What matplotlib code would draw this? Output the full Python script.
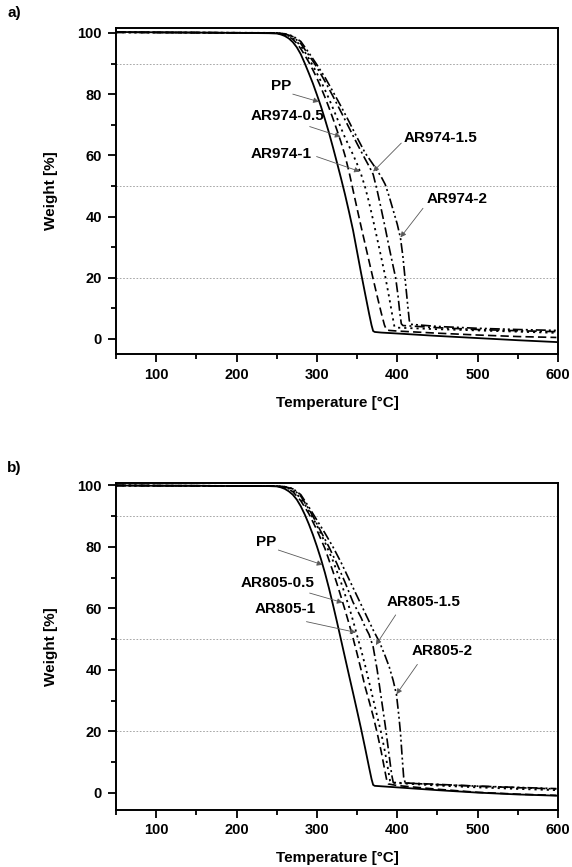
import numpy as np
import matplotlib
matplotlib.use("Agg")
import matplotlib.pyplot as plt
from matplotlib.ticker import MultipleLocator

plt.rcParams['font.family'] = ['Liberation Sans', 'DejaVu Sans']
plt.rcParams['font.weight'] = 'bold'

# ---- TGA curves, panel a (PP and AR974 composites) ----
t_pp_a = [50, 100, 150, 200, 240, 250, 255, 260, 265, 270, 275, 280, 285, 290, 295, 300, 305, 310, 315,
          320, 325, 330, 335, 340, 345, 350, 355, 360, 365, 368, 370, 372, 380, 400, 450, 500, 550, 598]
w_pp_a = [100.3, 100.2, 100.1, 100.0, 99.9, 99.8, 99.5, 99.0, 98.2, 97.0, 95.3, 93.0, 90.0, 86.8, 83.5,
          79.8, 76.0, 71.8, 67.4, 62.6, 57.6, 52.5, 47.2, 41.5, 35.5, 28.5, 21.5, 14.8, 8.2, 4.5, 2.6, 2.3,
          2.1, 1.8, 1.0, 0.3, -0.4, -1.0]

t_a05 = [50, 150, 250, 260, 265, 270, 275, 280, 285, 290, 295, 300, 305, 310, 315, 320, 325, 330, 335,
         340, 345, 350, 355, 360, 365, 370, 375, 380, 384, 386.5, 390, 400, 450, 500, 550, 598]
w_a05 = [100.2, 100.1, 99.9, 99.4, 98.8, 97.9, 96.6, 94.8, 92.7, 90.4, 87.9, 85.2, 82.2, 79.0, 75.6,
         72.0, 68.2, 64.3, 59.9, 54.6, 48.6, 42.6, 36.7, 31.0, 25.3, 19.6, 14.0, 8.6, 4.6, 3.0, 2.8, 2.6,
         1.9, 1.3, 0.8, 0.5]

t_a1 = [50, 150, 250, 260, 270, 280, 285, 290, 295, 300, 305, 310, 315, 320, 325, 330, 335, 340, 345,
        350, 355, 360, 365, 370, 375, 380, 385, 390, 394, 396.5, 400, 450, 500, 550, 598]
w_a1 = [100.2, 100.1, 100.0, 99.6, 98.4, 95.8, 93.8, 91.6, 89.3, 86.8, 84.2, 81.4, 78.5, 75.4, 72.2,
        68.9, 65.8, 63.0, 60.2, 57.2, 53.8, 49.6, 44.5, 38.8, 32.8, 26.7, 20.5, 13.5, 7.5, 4.0, 3.7,
        3.2, 2.8, 2.4, 2.0]

t_a15 = [50, 150, 250, 260, 270, 280, 290, 297, 305, 310, 320, 330, 340, 350, 360, 365, 370, 375, 380,
         385, 390, 395, 398, 401, 403, 405, 407, 450, 500, 550, 598]
w_a15 = [100.2, 100.1, 100.0, 99.7, 98.8, 96.5, 92.7, 90.0, 86.5, 84.2, 79.3, 74.2, 69.0, 63.8, 58.8,
         56.4, 53.8, 48.5, 42.5, 36.3, 29.8, 23.6, 20.0, 14.0, 9.0, 5.0, 4.4, 3.7, 3.1, 2.7, 2.4]

t_a2 = [50, 150, 250, 260, 270, 280, 290, 299, 310, 320, 330, 340, 350, 360, 370, 375, 380, 385, 390,
        395, 400, 404, 407, 410, 413, 415, 417, 450, 500, 550, 598]
w_a2 = [100.2, 100.1, 100.0, 99.7, 99.0, 97.2, 93.5, 90.0, 85.5, 80.8, 76.0, 71.0, 65.8, 60.8, 57.0,
        55.0, 53.0, 50.5, 46.5, 42.0, 37.5, 33.0, 27.0, 19.0, 11.0, 6.0, 4.8, 4.1, 3.5, 3.1, 2.8]

# ---- TGA curves, panel b (PP and AR805 composites) ----
t_pp_b = [50, 100, 150, 200, 240, 250, 255, 260, 265, 270, 275, 280, 285, 290, 295, 300, 305, 310, 315,
          320, 325, 330, 335, 340, 345, 350, 355, 360, 365, 368, 370, 372, 400, 450, 500, 550, 598]
w_pp_b = [100.0, 99.9, 99.9, 99.8, 99.8, 99.7, 99.4, 98.9, 98.1, 97.0, 95.4, 93.2, 90.5, 87.4, 84.0,
          80.2, 76.1, 71.6, 66.6, 61.2, 55.6, 49.8, 44.0, 38.2, 32.5, 26.7, 20.8, 14.6, 8.2, 4.5, 2.6,
          2.3, 1.8, 0.9, 0.1, -0.5, -0.9]

t_b05 = [50, 150, 250, 260, 270, 280, 290, 300, 310, 320, 325, 330, 335, 340, 345, 350, 355, 360, 365,
         370, 375, 380, 384, 387, 389, 400, 450, 500, 550, 598]
w_b05 = [100.0, 99.9, 99.8, 99.4, 98.0, 95.0, 90.8, 85.5, 79.5, 72.0, 68.0, 63.8, 59.5, 55.0, 50.3,
         45.3, 40.0, 34.5, 29.8, 25.0, 19.5, 13.5, 8.0, 4.0, 2.9, 2.4, 1.2, 0.2, -0.4, -0.8]

t_b1 = [50, 150, 250, 260, 270, 280, 290, 300, 310, 320, 330, 340, 345, 350, 355, 360, 365, 370, 375,
        380, 385, 389, 391, 393, 450, 500, 550, 598]
w_b1 = [100.0, 99.9, 99.8, 99.5, 98.4, 95.8, 91.8, 87.0, 81.5, 75.5, 68.5, 60.5, 56.0, 51.2, 46.5,
        41.5, 36.0, 30.5, 25.0, 19.5, 13.0, 7.0, 4.0, 3.3, 2.4, 1.8, 1.3, 0.9]

t_b15 = [50, 150, 250, 260, 270, 280, 290, 295, 305, 315, 325, 335, 345, 355, 360, 365, 370, 375, 380,
         385, 390, 393, 395, 450, 500, 550, 598]
w_b15 = [100.0, 99.9, 99.8, 99.6, 98.9, 96.5, 92.3, 90.0, 85.0, 80.0, 74.5, 68.5, 62.0, 57.0, 54.0,
         51.5, 47.5, 40.0, 31.0, 22.0, 12.0, 6.0, 3.4, 2.8, 2.2, 1.7, 1.3]

t_b2 = [50, 150, 250, 260, 270, 280, 290, 297, 310, 320, 330, 340, 350, 360, 370, 378, 385, 390, 395,
        399, 402, 404, 406, 408, 410, 450, 500, 550, 598]
w_b2 = [100.0, 99.9, 99.8, 99.6, 99.0, 97.0, 93.0, 90.0, 84.5, 80.0, 75.0, 69.5, 64.0, 58.5, 53.0,
        49.0, 44.5, 41.0, 36.5, 32.0, 25.0, 19.5, 12.0, 5.0, 3.2, 2.7, 2.2, 1.8, 1.4]

# ---- labels ----
names_a = ["PP", "AR974-0.5", "AR974-1", "AR974-1.5", "AR974-2"]
names_b = ["PP", "AR805-0.5", "AR805-1", "AR805-1.5", "AR805-2"]
guide_levels = [90, 50, 20]
x_ticks = [100, 200, 300, 400, 500, 600]
y_ticks = [0, 20, 40, 60, 80, 100]

styles = [
    dict(ls='-', lw=1.3),
    dict(ls=(0, (5, 2.5)), lw=1.2),
    dict(ls=(0, (1.2, 2.2)), lw=1.3),
    dict(ls=(0, (6, 2, 1.2, 2)), lw=1.2),
    dict(ls=(0, (6, 1.8, 1.2, 1.8, 1.2, 1.8)), lw=1.2),
]

# label text position, arrow start, arrow tip (data coordinates)
notes_a = [
    ((256, 82.7), (270, 80.0), (302.5, 77.5)),
    ((264, 72.9), (291, 69.4), (329.5, 66.1)),
    ((255, 60.5), (299.6, 59.6), (353.5, 54.7)),
    ((454, 65.7), (405, 64.0), (370, 54.7)),
    ((474, 45.8), (432, 42.7), (404, 33.2)),
]
notes_b = [
    ((236.6, 81.7), (252, 79.0), (307, 74.2)),
    ((251.5, 68.3), (291, 65.0), (332, 61.9)),
    ((261, 59.8), (287, 55.7), (348.5, 52.2)),
    ((433, 62.1), (398, 57.9), (373.4, 48.1)),
    ((455.5, 46.2), (425, 41.8), (399, 32.1)),
]

fig = plt.figure(figsize=(5.72, 8.67), dpi=100)
ax_a = fig.add_axes([0.2028, 0.5917, 0.7727, 0.376])
ax_b = fig.add_axes([0.2028, 0.0663, 0.7727, 0.3766])


def draw(ax, curves, names, notes, ylim):
    for lvl in guide_levels:
        ax.axhline(lvl, color='0.6', lw=0.6, ls=(0, (2, 2)), zorder=1)
    for (t, w), st in zip(curves, styles):
        ax.plot(t, w, color='black', zorder=3, **st)
    for name, (txt, start, tip) in zip(names, notes):
        ax.text(txt[0], txt[1], name, ha='center', va='center',
                fontsize=11, fontweight='bold', zorder=4)
        ax.annotate('', xy=tip, xytext=start,
                    arrowprops=dict(arrowstyle='-|>', color='0.35', lw=0.6,
                                    mutation_scale=8, shrinkA=0, shrinkB=0),
                    zorder=4)
    ax.set_xlim(50, 600)
    ax.set_ylim(*ylim)
    ax.set_xticks(x_ticks)
    ax.set_yticks(y_ticks)
    ax.xaxis.set_minor_locator(MultipleLocator(50))
    ax.yaxis.set_minor_locator(MultipleLocator(10))
    ax.tick_params(which='major', direction='out', length=6, width=1.3,
                   labelsize=10.5, pad=4)
    ax.tick_params(which='minor', direction='out', length=3.5, width=1.3)
    for lab in ax.get_xticklabels() + ax.get_yticklabels():
        lab.set_fontweight('bold')
    for sp in ax.spines.values():
        sp.set_linewidth(1.4)
    ax.set_xlabel('Temperature [°C]', fontsize=11, fontweight='bold', labelpad=10)
    ax.set_ylabel('Weight [%]', fontsize=11, fontweight='bold', labelpad=14)


draw(ax_a, [(t_pp_a, w_pp_a), (t_a05, w_a05), (t_a1, w_a1), (t_a15, w_a15), (t_a2, w_a2)],
     names_a, notes_a, (-4.9, 101.6))
draw(ax_b, [(t_pp_b, w_pp_b), (t_b05, w_b05), (t_b1, w_b1), (t_b15, w_b15), (t_b2, w_b2)],
     names_b, notes_b, (-5.4, 100.8))

fig.text(7 / 572, 1 - 13 / 867, 'a)', fontsize=11, fontweight='bold', va='center')
fig.text(7 / 572, 1 - 468 / 867, 'b)', fontsize=11, fontweight='bold', va='center')

fig.savefig('out.png', dpi=100)
